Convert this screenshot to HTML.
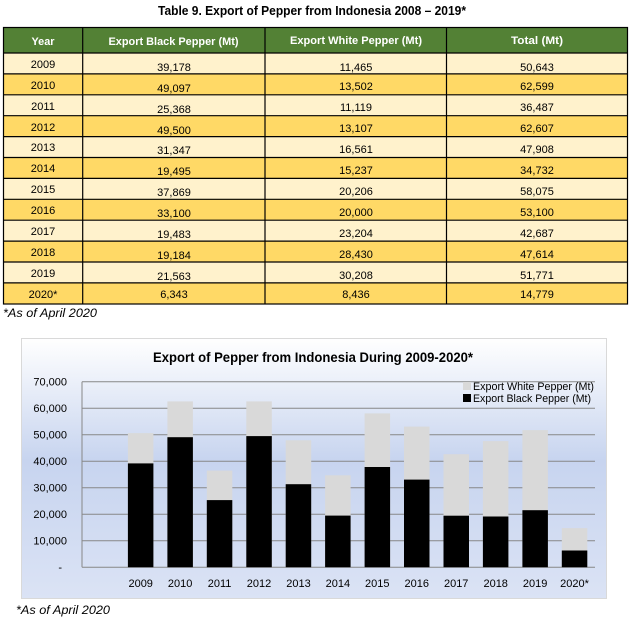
<!DOCTYPE html>
<html>
<head>
<meta charset="utf-8">
<style>
  html,body{margin:0;padding:0;background:#fff;}
  svg{display:block;}
  text{font-family:"Liberation Sans",Arial,sans-serif;}
</style>
</head>
<body>
<svg width="631" height="621" viewBox="0 0 631 621" xmlns="http://www.w3.org/2000/svg">
  <defs>
    <linearGradient id="bg" x1="0" y1="0" x2="0" y2="1">
      <stop offset="0" stop-color="#ffffff"/>
      <stop offset="0.47" stop-color="#c7d4ef"/>
      <stop offset="1" stop-color="#dbe3f5"/>
    </linearGradient>
  </defs>
  <rect width="631" height="621" fill="#fff"/>

  <!-- Table title -->
  <text x="312" y="15" font-size="13" font-weight="bold" text-anchor="middle" fill="#000" textLength="308" lengthAdjust="spacingAndGlyphs">Table 9. Export of Pepper from Indonesia 2008 – 2019*</text>

  <!-- Header -->
  <rect x="3.5" y="27.5" width="624" height="25.5" fill="#538135"/>
  <g fill="#fff" font-size="11" font-weight="bold" text-anchor="middle">
    <text x="43" y="45" textLength="23" lengthAdjust="spacingAndGlyphs">Year</text>
    <text x="173.5" y="45" textLength="130" lengthAdjust="spacingAndGlyphs">Export Black Pepper (Mt)</text>
    <text x="356" y="44" textLength="132" lengthAdjust="spacingAndGlyphs">Export White Pepper (Mt)</text>
    <text x="537" y="44" textLength="52" lengthAdjust="spacingAndGlyphs">Total (Mt)</text>
  </g>

  <!-- Rows -->
  <g id="rows">
    <rect x="3.5" y="53" width="624" height="20.9" fill="#FFF2CC"/>
    <rect x="3.5" y="73.9" width="624" height="20.9" fill="#FFD966"/>
    <rect x="3.5" y="94.8" width="624" height="20.9" fill="#FFF2CC"/>
    <rect x="3.5" y="115.7" width="624" height="20.9" fill="#FFD966"/>
    <rect x="3.5" y="136.6" width="624" height="20.9" fill="#FFF2CC"/>
    <rect x="3.5" y="157.5" width="624" height="20.9" fill="#FFD966"/>
    <rect x="3.5" y="178.4" width="624" height="20.9" fill="#FFF2CC"/>
    <rect x="3.5" y="199.3" width="624" height="20.9" fill="#FFD966"/>
    <rect x="3.5" y="220.2" width="624" height="20.9" fill="#FFF2CC"/>
    <rect x="3.5" y="241.1" width="624" height="20.9" fill="#FFD966"/>
    <rect x="3.5" y="262" width="624" height="20.9" fill="#FFF2CC"/>
    <rect x="3.5" y="282.9" width="624" height="21.1" fill="#FFD966"/>
  </g>

  <!-- Grid lines -->
  <g stroke="#000" stroke-width="1.2" fill="none">
    <rect x="3.5" y="27.5" width="624" height="276.5"/>
    <line x1="82.7" y1="27.5" x2="82.7" y2="304"/>
    <line x1="265" y1="27.5" x2="265" y2="304"/>
    <line x1="446.5" y1="27.5" x2="446.5" y2="304"/>
    <line x1="3.5" y1="53" x2="627.5" y2="53"/>
    <line x1="3.5" y1="73.9" x2="627.5" y2="73.9"/>
    <line x1="3.5" y1="94.8" x2="627.5" y2="94.8"/>
    <line x1="3.5" y1="115.7" x2="627.5" y2="115.7"/>
    <line x1="3.5" y1="136.6" x2="627.5" y2="136.6"/>
    <line x1="3.5" y1="157.5" x2="627.5" y2="157.5"/>
    <line x1="3.5" y1="178.4" x2="627.5" y2="178.4"/>
    <line x1="3.5" y1="199.3" x2="627.5" y2="199.3"/>
    <line x1="3.5" y1="220.2" x2="627.5" y2="220.2"/>
    <line x1="3.5" y1="241.1" x2="627.5" y2="241.1"/>
    <line x1="3.5" y1="262" x2="627.5" y2="262"/>
    <line x1="3.5" y1="282.9" x2="627.5" y2="282.9"/>
  </g>

  <!-- Table text -->
  <g font-size="11" fill="#000" text-anchor="middle">
    <text x="43" y="68">2009</text><text x="174" y="71">39,178</text><text x="356" y="71">11,465</text><text x="537" y="71">50,643</text>
    <text x="43" y="89">2010</text><text x="174" y="92">49,097</text><text x="356" y="90">13,502</text><text x="537" y="90">62,599</text>
    <text x="43" y="110">2011</text><text x="174" y="113">25,368</text><text x="356" y="111">11,119</text><text x="537" y="111">36,487</text>
    <text x="43" y="131">2012</text><text x="174" y="134">49,500</text><text x="356" y="132">13,107</text><text x="537" y="132">62,607</text>
    <text x="43" y="151">2013</text><text x="174" y="154">31,347</text><text x="356" y="153">16,561</text><text x="537" y="153">47,908</text>
    <text x="43" y="172">2014</text><text x="174" y="175">19,495</text><text x="356" y="174">15,237</text><text x="537" y="174">34,732</text>
    <text x="43" y="193">2015</text><text x="174" y="196">37,869</text><text x="356" y="195">20,206</text><text x="537" y="195">58,075</text>
    <text x="43" y="214">2016</text><text x="174" y="217">33,100</text><text x="356" y="216">20,000</text><text x="537" y="216">53,100</text>
    <text x="43" y="235">2017</text><text x="174" y="238">19,483</text><text x="356" y="237">23,204</text><text x="537" y="237">42,687</text>
    <text x="43" y="256">2018</text><text x="174" y="259">19,184</text><text x="356" y="258">28,430</text><text x="537" y="258">47,614</text>
    <text x="43" y="277">2019</text><text x="174" y="280">21,563</text><text x="356" y="279">30,208</text><text x="537" y="279">51,771</text>
    <text x="43" y="298">2020*</text><text x="174" y="298">6,343</text><text x="356" y="298">8,436</text><text x="537" y="298">14,779</text>
  </g>

  <text x="3" y="317" font-size="12" font-style="italic" fill="#000" textLength="94" lengthAdjust="spacingAndGlyphs">*As of April 2020</text>

  <!-- Chart -->
  <rect x="21.5" y="338.5" width="585" height="260" fill="url(#bg)" stroke="#d9d9d9" stroke-width="1"/>
  <text x="313" y="362" font-size="14" font-weight="bold" text-anchor="middle" fill="#000" textLength="320" lengthAdjust="spacingAndGlyphs">Export of Pepper from Indonesia During 2009-2020*</text>

  <!-- gridlines -->
  <g stroke="#878787" stroke-width="1">
    <line x1="82" y1="381.7" x2="595" y2="381.7"/>
    <line x1="82" y1="408.2" x2="595" y2="408.2"/>
    <line x1="82" y1="434.7" x2="595" y2="434.7"/>
    <line x1="82" y1="461.2" x2="595" y2="461.2"/>
    <line x1="82" y1="487.8" x2="595" y2="487.8"/>
    <line x1="82" y1="514.3" x2="595" y2="514.3"/>
    <line x1="82" y1="540.8" x2="595" y2="540.8"/>
    <line x1="82" y1="567.3" x2="595" y2="567.3"/>
    <line x1="82" y1="381.7" x2="82" y2="567.3"/>
  </g>

  <!-- y labels -->
  <g font-size="11" fill="#000" text-anchor="end">
    <text x="67" y="385.5">70,000</text>
    <text x="67" y="412">60,000</text>
    <text x="67" y="438.5">50,000</text>
    <text x="67" y="465">40,000</text>
    <text x="67" y="491.5">30,000</text>
    <text x="67" y="518">20,000</text>
    <text x="67" y="544.5">10,000</text>
    <text x="62" y="571">-</text>
  </g>

  <!-- bars: white (total) then black -->
  <g>
    <rect x="127.9" y="433.1" width="25.5" height="134.2" fill="#d9d9d9"/>
    <rect x="127.9" y="463.4" width="25.5" height="103.9" fill="#000"/>

    <rect x="167.4" y="401.4" width="25.5" height="165.9" fill="#d9d9d9"/>
    <rect x="167.4" y="437.2" width="25.5" height="130.1" fill="#000"/>

    <rect x="206.8" y="470.6" width="25.5" height="96.7" fill="#d9d9d9"/>
    <rect x="206.8" y="500.1" width="25.5" height="67.2" fill="#000"/>

    <rect x="246.3" y="401.4" width="25.5" height="165.9" fill="#d9d9d9"/>
    <rect x="246.3" y="436.1" width="25.5" height="131.2" fill="#000"/>

    <rect x="285.7" y="440.3" width="25.5" height="127.0" fill="#d9d9d9"/>
    <rect x="285.7" y="484.2" width="25.5" height="83.1" fill="#000"/>

    <rect x="325.1" y="475.3" width="25.5" height="92.0" fill="#d9d9d9"/>
    <rect x="325.1" y="515.6" width="25.5" height="51.7" fill="#000"/>

    <rect x="364.6" y="413.4" width="25.5" height="153.9" fill="#d9d9d9"/>
    <rect x="364.6" y="467.0" width="25.5" height="100.3" fill="#000"/>

    <rect x="404.0" y="426.6" width="25.5" height="140.7" fill="#d9d9d9"/>
    <rect x="404.0" y="479.6" width="25.5" height="87.7" fill="#000"/>

    <rect x="443.5" y="454.2" width="25.5" height="113.1" fill="#d9d9d9"/>
    <rect x="443.5" y="515.7" width="25.5" height="51.6" fill="#000"/>

    <rect x="482.9" y="441.1" width="25.5" height="126.2" fill="#d9d9d9"/>
    <rect x="482.9" y="516.5" width="25.5" height="50.8" fill="#000"/>

    <rect x="522.4" y="430.1" width="25.5" height="137.2" fill="#d9d9d9"/>
    <rect x="522.4" y="510.2" width="25.5" height="57.1" fill="#000"/>

    <rect x="561.8" y="528.1" width="25.5" height="39.2" fill="#d9d9d9"/>
    <rect x="561.8" y="550.5" width="25.5" height="16.8" fill="#000"/>
  </g>

  <!-- x labels -->
  <g font-size="11" fill="#000" text-anchor="middle">
    <text x="140.7" y="587">2009</text>
    <text x="180.1" y="587">2010</text>
    <text x="219.6" y="587">2011</text>
    <text x="259.0" y="587">2012</text>
    <text x="298.5" y="587">2013</text>
    <text x="337.9" y="587">2014</text>
    <text x="377.3" y="587">2015</text>
    <text x="416.8" y="587">2016</text>
    <text x="456.2" y="587">2017</text>
    <text x="495.7" y="587">2018</text>
    <text x="535.1" y="587">2019</text>
    <text x="574.5" y="587">2020*</text>
  </g>

  <!-- legend -->
  <rect x="463" y="382" width="8" height="8" fill="#d9d9d9"/>
  <rect x="463" y="394" width="8" height="8" fill="#000"/>
  <g font-size="11" fill="#000">
    <text x="473" y="390" textLength="121" lengthAdjust="spacingAndGlyphs">Export White Pepper (Mt)</text>
    <text x="473" y="402" textLength="118" lengthAdjust="spacingAndGlyphs">Export Black Pepper (Mt)</text>
  </g>

  <text x="16" y="614" font-size="12" font-style="italic" fill="#000" textLength="94" lengthAdjust="spacingAndGlyphs">*As of April 2020</text>
</svg>
</body>
</html>
